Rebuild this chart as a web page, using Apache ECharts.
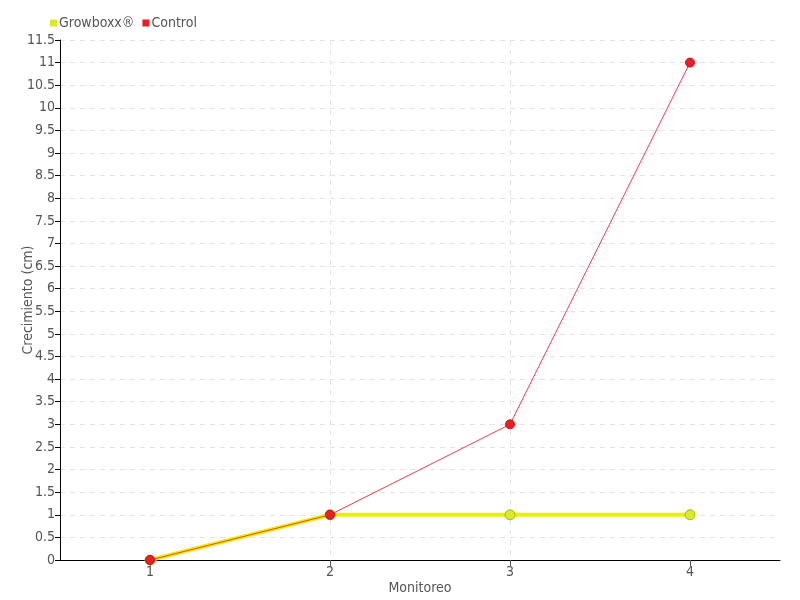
<!DOCTYPE html>
<html>
<head>
<meta charset="utf-8">
<script src="https://cdn.jsdelivr.net/npm/echarts@6/dist/echarts.min.js"></script>
<style>
  html, body { margin: 0; padding: 0; background: #fff; }
  #chart { width: 800px; height: 600px; }
</style>
</head>
<body>
<div id="chart"></div>
<script>
const categories = [1, 2, 3, 4];
const growboxx = [0, 1, 1, 1];
const control = [0, 1, 3, 11];

const font = '"Liberation Sans Narrow", "DejaVu Sans Condensed", sans-serif';

function pairs(vals) {
  return categories.map((c, i) => [c, vals[i]]);
}

const chart = echarts.init(document.getElementById('chart'), null, { renderer: 'canvas' });

chart.setOption({
  animation: false,
  textStyle: { fontFamily: font },
  legend: {
    left: 45,
    top: 11,
    itemWidth: 7,
    itemHeight: 7,
    itemGap: 8,
    icon: 'rect',
    itemStyle: { borderWidth: 0 },
    textStyle: { color: '#555', fontSize: 14, fontFamily: font, padding: [0, 0, 0, -3] },
    data: ['Growboxx®', 'Control']
  },
  grid: { left: 60, right: 20, top: 40, bottom: 40, outerBoundsMode: 'none', containLabel: false },
  xAxis: {
    type: 'value',
    min: 0.5,
    max: 4.5,
    interval: 1,
    name: 'Monitoreo',
    nameLocation: 'middle',
    nameGap: 21,
    nameMoveOverlap: false,
    nameTextStyle: { color: '#555', fontSize: 14, fontFamily: font },
    axisLine: { lineStyle: { color: '#000', width: 1 } },
    axisTick: { customValues: categories, length: 6, lineStyle: { color: '#555' } },
    axisLabel: { customValues: categories, color: '#555', fontSize: 14, fontFamily: font, margin: 5 },
    splitLine: {
      show: true,
      showMinLine: false,
      showMaxLine: false,
      lineStyle: { type: [5, 5], color: '#e3e3e3' }
    }
  },
  yAxis: {
    type: 'value',
    min: 0,
    max: 11.5,
    interval: 0.5,
    name: 'Crecimiento (cm)',
    nameLocation: 'middle',
    nameGap: 25,
    nameMoveOverlap: false,
    nameTextStyle: { color: '#555', fontSize: 14, fontFamily: font },
    axisLine: { show: true, lineStyle: { color: '#000', width: 1 } },
    axisTick: { show: true, length: 5, lineStyle: { color: '#000' } },
    axisLabel: { color: '#555', fontSize: 14, fontFamily: font, margin: 5 },
    splitLine: { show: true, lineStyle: { type: [5, 5], color: '#e3e3e3' } }
  },
  series: [
    {
      name: 'Growboxx®',
      type: 'line',
      data: pairs(growboxx),
      color: '#e6f200',
      symbol: 'circle',
      symbolSize: 10,
      lineStyle: { width: 4, color: '#e6f200' },
      itemStyle: { color: '#d9ea2a', borderColor: '#aab800', borderWidth: 1 },
      z: 2
    },
    {
      name: 'Control',
      type: 'line',
      data: pairs(control),
      color: '#ee1c25',
      symbol: 'circle',
      symbolSize: 9,
      lineStyle: { width: 1, color: '#ff3a48' },
      itemStyle: { color: '#ee1c25', borderColor: '#c81018', borderWidth: 1 },
      z: 3
    }
  ]
});
</script>
</body>
</html>
